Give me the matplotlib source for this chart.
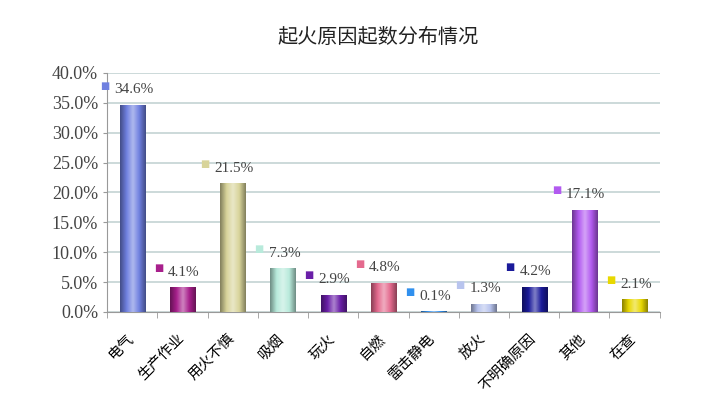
import numpy as np
import matplotlib.pyplot as plt
from matplotlib.colors import LinearSegmentedColormap, to_rgb
from matplotlib.transforms import ScaledTranslation

plt.rcParams['font.family'] = ['Noto Sans CJK SC', 'DejaVu Sans']

categories = ['电气', '生产作业', '用火不慎', '吸烟', '玩火', '自燃', '雷击静电', '放火', '不明确原因', '其他', '在查']
values = [34.6, 4.1, 21.5, 7.3, 2.9, 4.8, 0.1, 1.3, 4.2, 17.1, 2.1]
colors = ['#6f80e0', '#a8208c', '#d8d49a', '#b8eadb', '#6a1fa8', '#e46a8e',
          '#3090ee', '#b8c4ee', '#1a1a9a', '#b25af0', '#e8d800']
yticks = [0, 5, 10, 15, 20, 25, 30, 35, 40]

num_font = 'Liberation Serif'

fig = plt.figure(figsize=(7.14, 4.03), dpi=100)
ax = fig.add_axes([0.150, 0.226, 0.774, 0.593])

x = np.arange(len(categories))
bars = ax.bar(x, values, width=0.5, color=colors, zorder=3)

# gradient fill inside each bar
grad = np.linspace(0, 1, 64).reshape(1, -1)
for b, c in zip(bars, colors):
    r, g, bl = to_rgb(c)
    light = (r + (1 - r) * 0.45, g + (1 - g) * 0.45, bl + (1 - bl) * 0.45)
    dark = (r * 0.6, g * 0.6, bl * 0.6)
    cmap = LinearSegmentedColormap.from_list('g', [dark, c, light, c, dark])
    x0, y0 = b.get_x(), b.get_y()
    w, h = b.get_width(), b.get_height()
    im = ax.imshow(grad, cmap=cmap, aspect='auto', extent=[x0, x0 + w, y0, y0 + h],
                   zorder=4, interpolation='bicubic')
    im.set_clip_path(b)

# value labels with little colour keys just left of the text
for xi, v, c in zip(x, values, colors):
    txt = ax.annotate('%.1f%%' % v, (xi, v), xytext=(1, 11), textcoords='offset points',
                      ha='center', va='center', fontsize=11, color='#444444',
                      family=num_font, zorder=6)
    ax.annotate('\u25a0', xy=(0, 0.5), xycoords=txt, xytext=(-7, 3), textcoords='offset points',
                ha='center', va='center', fontsize=7, color=c, family='DejaVu Sans', zorder=6)

ax.set_xlim(-0.5, len(categories) - 0.5)
ax.set_ylim(0, 40)
ax.set_yticks(yticks)
ax.set_yticklabels(['%.1f%%' % t for t in yticks], family=num_font, fontsize=13, color='#444444')
ax.set_xticks(x)
ax.set_xticklabels(categories, rotation=45, ha='right', rotation_mode='anchor', fontsize=10.5)
ax.tick_params(axis='x', length=0, pad=10)
for lbl in ax.get_xticklabels():
    lbl.set_transform(lbl.get_transform() + ScaledTranslation(-4 / 72, -4 / 72, fig.dpi_scale_trans))
ax.set_xticks(np.arange(-0.5, len(categories), 1), minor=True)
ax.tick_params(axis='x', which='minor', length=4, color='#999999')
ax.tick_params(axis='y', length=3, color='#999999')

ax.yaxis.grid(True, color='#c3d3d3', linewidth=1.2, zorder=0)
for s in ['top', 'right']:
    ax.spines[s].set_visible(False)
ax.spines['left'].set_color('#999999')
ax.spines['bottom'].set_color('#999999')

fig.text(0.53, 0.906, '起火原因起数分布情况', ha='center', va='center', fontsize=14.5, color='#222222')

fig.savefig('out.png', dpi=100)
